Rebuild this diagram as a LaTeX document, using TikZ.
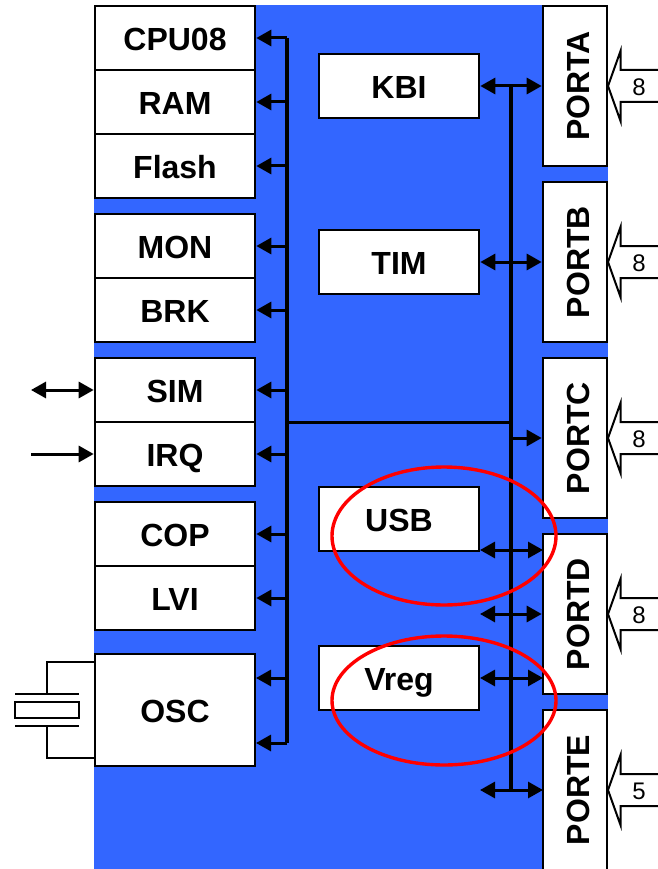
\documentclass[tikz,border=0pt]{standalone}
\usepackage{fontspec}
\setmainfont{Liberation Sans}
\usetikzlibrary{arrows.meta}
\definecolor{chipblue}{HTML}{3366FF}
\tikzset{
 x=1pt,y=-1pt,
 blk/.style={draw=black,fill=white,line width=2.6pt,minimum width=160pt,inner sep=0pt,text height=24.5pt,text depth=0pt,font=\fontsize{32}{33}\selectfont\bfseries},
 portblk/.style={draw=black,fill=white,line width=2.6pt,minimum width=64pt,minimum height=160pt,inner sep=0pt},
 portlbl/.style={rotate=90,font=\fontsize{32}{33}\selectfont\bfseries,inner sep=0pt},
 tip/.style={-{Triangle[length=15pt,width=16pt]}},
 dtip/.style={{Triangle[length=15pt,width=16pt]}-{Triangle[length=15pt,width=16pt]}},
 wire/.style={line width=3pt},
 bus/.style={line width=4pt},
 xtal/.style={line width=2pt},
 pin/.style={draw=black,fill=white,line width=2pt,line join=miter},
 pinlbl/.style={font=\fontsize{24}{25}\selectfont,inner sep=0pt},
 halo/.style={draw=red,line width=3.4pt},
}
\begin{document}
\begin{tikzpicture}
\useasboundingbox (0,0) rectangle (657,869);
\fill[chipblue] (94,5) rectangle (608,869);
% left column
\node[blk,minimum height=64pt] (cpu) at (175,38) {CPU08};
\node[blk,minimum height=64pt] (ram) at (175,102) {RAM};
\node[blk,minimum height=64pt] (flash) at (175,166) {Flash};
\node[blk,minimum height=64pt] (mon) at (175,246) {MON};
\node[blk,minimum height=64pt] (brk) at (175,310) {BRK};
\node[blk,minimum height=64pt] (sim) at (175,390) {SIM};
\node[blk,minimum height=64pt] (irq) at (175,454) {IRQ};
\node[blk,minimum height=64pt] (cop) at (175,534) {COP};
\node[blk,minimum height=64pt] (lvi) at (175,598) {LVI};
\node[blk,minimum height=112pt] (osc) at (175,710) {OSC};
% middle column
\node[blk,minimum height=64pt] (kbi) at (399,86) {KBI};
\node[blk,minimum height=64pt] (tim) at (399,262) {TIM};
\node[blk,minimum height=64pt] (usb) at (399,519) {USB};
\node[blk,minimum height=64pt] (vreg) at (399,678) {Vreg};
% ports
\node[portblk] (pa) at (575,86) {};
\node[portblk] (pb) at (575,262) {};
\node[portblk] (pc) at (575,438) {};
\node[portblk] (pd) at (575,614) {};
\node[portblk] (pe) at (575,790) {};
\node[portlbl] (la) at (578,86) {PORTA};
\node[portlbl] (lb) at (578,262) {PORTB};
\node[portlbl] (lc) at (578,438) {PORTC};
\node[portlbl] (ld) at (578,614) {PORTD};
\node[portlbl] (le) at (578,790) {PORTE};
% left bus
\coordinate (bl) at (287,38);
\coordinate (blb) at (287,743);
\coordinate (osca) at (256,678);
\coordinate (oscb) at (256,743);
\draw[bus] (bl) -- (blb);
\foreach \n in {cpu,ram,flash,mon,brk,sim,irq,cop,lvi}
  \draw[wire,tip] (\n.east -| bl) -- (\n.east);
\draw[wire,tip] (osca -| bl) -- (osca);
\draw[wire,tip] (oscb -| bl) -- (oscb);
% right bus
\coordinate (br) at (511,86);
\coordinate (brb) at (511,790);
\coordinate (pcl) at (543,438);
\draw[bus] (br) -- (brb);
\draw[wire] (287,422) coordinate (hl) -- (hl -| br);
\draw[wire,tip] (pcl -| br) -- (pc.west);
\draw[wire,dtip] (kbi.east) -- (pa.west);
\draw[wire,dtip] (tim.east) -- (pb.west);
\coordinate (pdl) at (480,614);
\coordinate (usbr) at (480,550);
\coordinate (usbp) at (543,550);
\coordinate (vregr) at (480,678);
\coordinate (vregp) at (543,678);
\coordinate (pel) at (480,790);
\coordinate (per) at (543,790);
\draw[wire,dtip] (usbr) -- (usbp);
\draw[wire,dtip] (pdl) -- (pd.west);
\draw[wire,dtip] (vregr) -- (vregp);
\draw[wire,dtip] (pel) -- (per);
% external signals
\coordinate (simx) at (31,390);
\coordinate (irqx) at (31,454);
\draw[wire,dtip] (simx) -- (sim.west);
\draw[wire,tip] (irqx) -- (irq.west);
% crystal
\draw[xtal] (94,662) coordinate (xa) -- (47,662) -- (47,694) coordinate (xb);
\draw[xtal] (15,694) -- (79,694);
\draw[xtal] (14.5,702) rectangle (79,718);
\draw[xtal] (15,726) -- (79,726);
\draw[xtal] (94,758) coordinate (xc) -- (47,758) -- (47,726) coordinate (xd);
% port pins
\foreach \y/\t/\nm in {86/8/pa,262/8/pb,438/8/pc,614/8/pd,790/5/pe}{
  \draw[pin] (608,\y) -- (620.5,\y-35) -- (620.5,\y-16) -- (662,\y-16) -- (662,\y+16) -- (620.5,\y+16) -- (620.5,\y+35) -- cycle;
  \node[pinlbl] (t\nm) at (639,\y+1) {\t};
}
% highlight ellipses
\draw[halo] (444,536) ellipse [x radius=112,y radius=69];
\draw[halo] (444,700.5) ellipse [x radius=112,y radius=64.5];
\end{tikzpicture}
\end{document}
